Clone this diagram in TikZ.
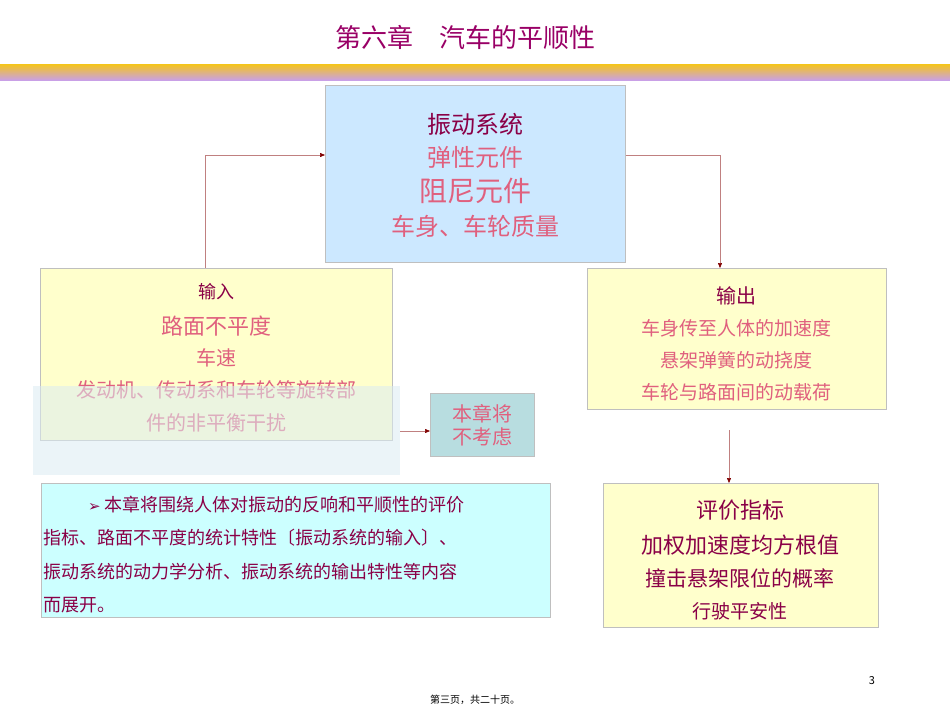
\documentclass[tikz,border=0pt]{standalone}
\usepackage{fontspec}
\setmainfont{Noto Sans CJK SC}
\newfontfamily\sym{DejaVu Sans}
\usetikzlibrary{arrows.meta}
\definecolor{dk}{HTML}{8A0047}
\definecolor{pk}{HTML}{E0607E}
\definecolor{ttl}{HTML}{990066}
\definecolor{arr}{HTML}{C08080}
\definecolor{tip}{HTML}{800000}
\tikzset{
 bx/.style={draw=black!25,line width=0.6pt},
 ar/.style={draw=arr,line width=0.5pt,-{Triangle[length=5pt,width=4pt,color=tip]}},
 t/.style={inner sep=0pt,font=#1},
}
\newcommand{\fs}[1]{\fontsize{#1}{#1}\selectfont}
\begin{document}
\begin{tikzpicture}[x=1pt,y=-1pt]
\useasboundingbox (0,0) rectangle (950,713);
\node[t=\fs{26}, text=ttl] (title) at (465,37) {第六章\quad 汽车的平顺性};
\shade[top color={rgb,255:red,245;green,197;blue,24}, bottom color={rgb,255:red,201;green,160;blue,230}] (0,64) rectangle (950,80);
% center
\node[bx,fill={rgb,255:red,204;green,232;blue,255},minimum width=300pt,minimum height=177pt,anchor=north west] (sys) at (325,85) {};
\node[t=\fs{24}, text=dk] (s1) at (475,124) {振动系统};
\node[t=\fs{24}, text=pk] (s2) at (475,157) {弹性元件};
\node[t=\fs{28}, text=pk] (s3) at (475,191) {阻尼元件};
\node[t=\fs{24}, text=pk] (s4) at (475,226) {车身、车轮质量};
% input
\node[bx,fill={rgb,255:red,255;green,255;blue,204},minimum width=352pt,minimum height=172pt,anchor=north west] (in) at (40,268) {};
\node[t=\fs{18}, text=dk] at (216,292) {输入};
\node[t=\fs{22}, text=pk] at (216,326) {路面不平度};
\node[t=\fs{20}, text=pk] at (216,358) {车速};
\node[t=\fs{20}, text=pk] at (216,390) {发动机、传动系和车轮等旋转部};
\node[t=\fs{20}, text=pk] at (216,423) {件的非平衡干扰};
\fill[cyan!30!teal!15,opacity=0.55] (33,386) rectangle (400,475);
\node[bx,fill={rgb,255:red,184;green,221;blue,224},minimum width=104pt,minimum height=63pt,anchor=north west] (nc) at (430,393) {};
\node[t=\fs{20}, text=pk,align=center] at (482,425) {本章将\\[3pt]不考虑};
\coordinate (ia) at (400,431);
\draw[ar] (ia) -- (nc.west|-ia);
% output
\node[bx,fill={rgb,255:red,255;green,255;blue,204},minimum width=299pt,minimum height=141pt,anchor=north west] (out) at (587,268) {};
\node[t=\fs{20}, text=dk] at (736,296) {输出};
\node[t=\fs{19}, text=pk] at (736,328) {车身传至人体的加速度};
\node[t=\fs{19}, text=pk] at (736,360) {悬架弹簧的动挠度};
\node[t=\fs{19}, text=pk] at (736,392) {车轮与路面间的动载荷};
% eval
\node[bx,fill={rgb,255:red,255;green,255;blue,204},minimum width=275pt,minimum height=144pt,anchor=north west] (ev) at (603,483) {};
\node[t=\fs{22}, text=dk] at (740,510) {评价指标};
\node[t=\fs{22}, text=dk] at (740,545) {加权加速度均方根值};
\node[t=\fs{21}, text=dk] at (740,578) {撞击悬架限位的概率};
\node[t=\fs{19}, text=dk] at (740,611) {行驶平安性};
% text box
\node[bx,fill={rgb,255:red,204;green,255;blue,255},minimum width=509pt,minimum height=134pt,anchor=north west] (tb) at (41,483) {};
\node[t=\fs{18}, text=dk, anchor=west] at (88,505) {{\sym\fs{15}➢} 本章将围绕人体对振动的反响和平顺性的评价};
\node[t=\fs{18}, text=dk, anchor=west] at (43,538) {指标、路面不平度的统计特性〔振动系统的输入〕、};
\node[t=\fs{18}, text=dk, anchor=west] at (43,572) {振动系统的动力学分析、振动系统的输出特性等内容};
\node[t=\fs{18}, text=dk, anchor=west] at (43,605) {而展开。};
% arrows
\coordinate (c1) at (205,155);
\draw[ar] (in.north-|c1) -- (c1) -- (sys.west|-c1);
\coordinate (c2) at (720,155);
\draw[ar] (sys.east|-c2) -- (c2) -- (out.north-|c2);
\coordinate (oa) at (729,430);
\draw[ar] (oa) -- (ev.north-|oa);
\node[t=\fs{11}] (pg) at (872,681) {3};
\node[t=\fs{10}] (ft) at (475,700) {第三页，共二十页。};
\end{tikzpicture}
\end{document}
